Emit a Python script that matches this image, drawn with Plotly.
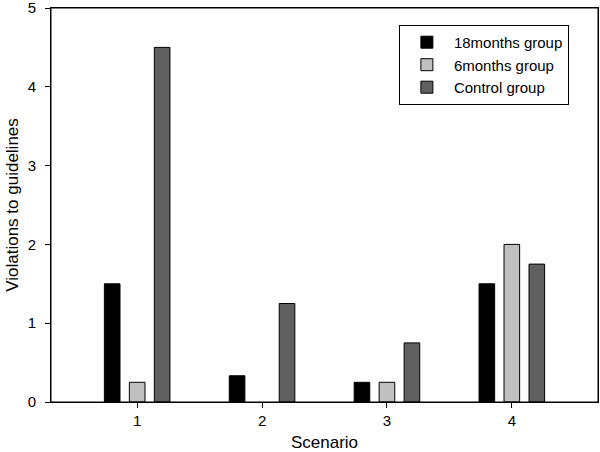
import plotly.graph_objects as go

scenarios = [1, 2, 3, 4]
group_18m = [1.5, 0.333, 0.25, 1.5]
group_6m = [0.25, None, 0.25, 2.0]
group_ctrl = [4.5, 1.25, 0.75, 1.75]

names = ["18months group", "6months group", "Control group"]
colors = ["#000000", "#c0c0c0", "#606060"]

fig = go.Figure()
for name, vals, col in zip(names, [group_18m, group_6m, group_ctrl], colors):
    fig.add_trace(go.Bar(x=scenarios, y=vals, name=name,
                         marker=dict(color=col, line=dict(color="#000000", width=1))))

fig.update_layout(
    width=600, height=452,
    margin=dict(l=51, r=2, t=8, b=50, autoexpand=False),
    plot_bgcolor="white", paper_bgcolor="white",
    barmode="group", bargap=0.4, bargroupgap=0.375,
    font=dict(family="Liberation Sans, Arial, sans-serif", size=14, color="#000000"),
    showlegend=True,
    legend=dict(x=0.636, y=0.957, xanchor="left", yanchor="top",
                bordercolor="#000000", borderwidth=1, bgcolor="white",
                font=dict(size=15), tracegroupgap=0, itemwidth=44, entrywidth=182),
    xaxis=dict(range=[0.31, 4.69], tickvals=scenarios, ticks="outside", ticklen=5,
               tickcolor="#000000", showline=True, linecolor="#000000", linewidth=1,
               mirror=True, showgrid=False, zeroline=False, automargin=False,
               tickfont=dict(size=15), ticklabeloverflow="allow",
               title=dict(text="Scenario", font=dict(size=17), standoff=8)),
    yaxis=dict(range=[0, 5], tickvals=[0, 1, 2, 3, 4, 5], ticks="outside", ticklen=5,
               tickcolor="#000000", showline=True, linecolor="#000000", linewidth=1,
               mirror=True, showgrid=False, zeroline=False, automargin=False,
               tickfont=dict(size=15), ticklabeloverflow="allow", ticklabelstandoff=6,
               title=dict(text="Violations to guidelines", font=dict(size=17), standoff=4)),
    shapes=[dict(type="rect", xref="paper", yref="paper", x0=0, x1=1, y0=0, y1=1,
                 line=dict(color="#000000", width=1), fillcolor="rgba(0,0,0,0)", layer="above")],
)

fig.write_html("out.html", config={"displayModeBar": False},
               post_script="document.body.style.margin='0';document.body.style.overflow='hidden';")
